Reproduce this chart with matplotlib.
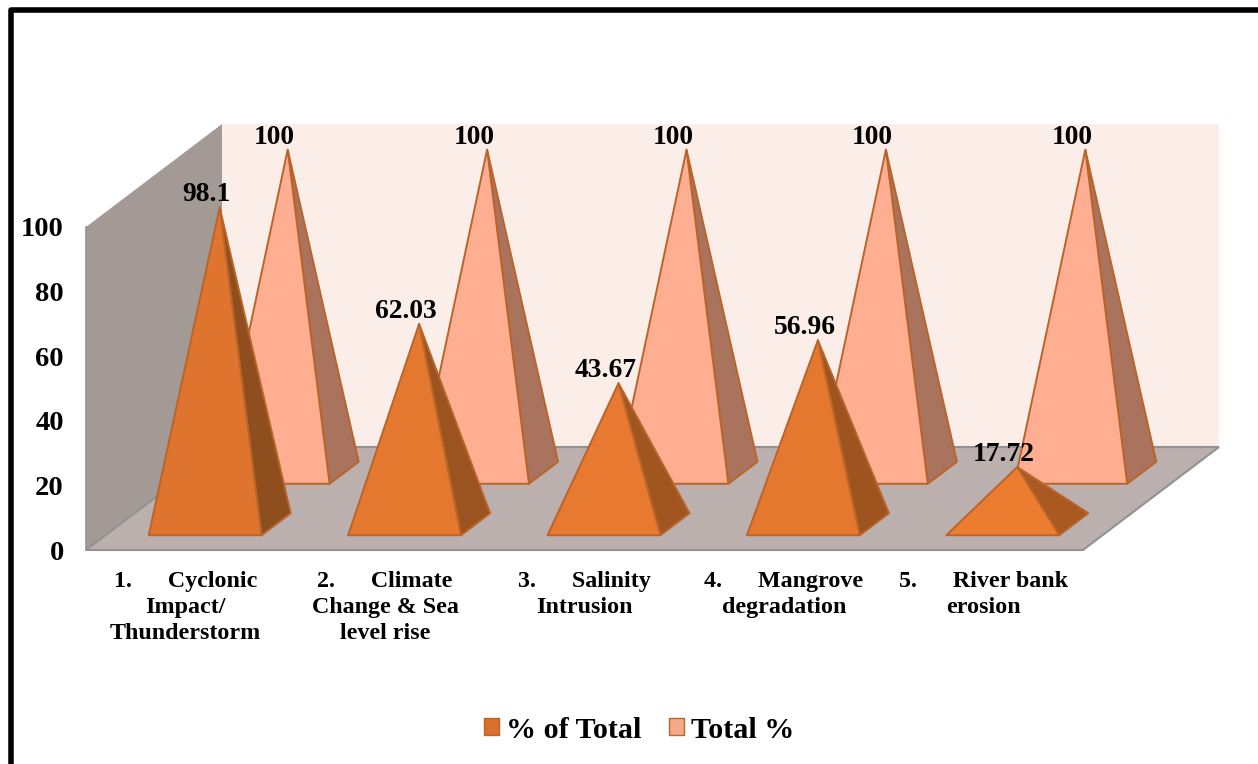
import matplotlib
matplotlib.use('Agg')
import matplotlib.pyplot as plt
from matplotlib.patches import Polygon, Patch, Rectangle
from matplotlib.colors import to_rgb

plt.rcParams['font.family'] = ['Liberation Serif', 'DejaVu Serif']
plt.rcParams['font.weight'] = 'bold'

# data
categorias = ['1.      Cyclonic\nImpact/\nThunderstorm',
              '2.      Climate\nChange & Sea\nlevel rise',
              '3.      Salinity\nIntrusion',
              '4.      Mangrove\ndegradation',
              '5.      River bank\nerosion']
pct_of_total = [98.1, 62.03, 43.67, 56.96, 17.72]
total_pct = [100, 100, 100, 100, 100]
rotulos_y = [0, 20, 40, 60, 80, 100]

W, H = 1258, 764

# oblique depth: how far the back of the box shifts, in axis units
DX = 136 / 199.4
DY = 103 / 3.23
MEIA_LARG = 0.283
MEIA_PROF = 0.107


def proj(x, v, d):
    return (x + d * DX, v + d * DY)


def mistura(a, b, t):
    a, b = to_rgb(a), to_rgb(b)
    return tuple(a[i] + (b[i] - a[i]) * t for i in range(3))


def piramide(ax, x, v, dc, frente, lado, z):
    borda = '#B9642B'
    e1 = proj(x - MEIA_LARG, 0, dc - MEIA_PROF)
    e2 = proj(x + MEIA_LARG, 0, dc - MEIA_PROF)
    e3 = proj(x + MEIA_LARG, 0, dc + MEIA_PROF)
    topo = proj(x, v, dc)
    ax.add_patch(Polygon([e2, e3, topo], closed=True, facecolor=lado,
                         edgecolor=borda, linewidth=1.4, joinstyle='round', zorder=z))
    ax.add_patch(Polygon([e1, e2, topo], closed=True, facecolor=frente,
                         edgecolor=borda, linewidth=1.4, joinstyle='round', zorder=z))


fig = plt.figure(figsize=(W / 100, H / 100), dpi=100, facecolor='white')
ax = fig.add_axes([86 / W, (H - 550) / H, 1134 / W, 426 / H])
ax.set_xlim(-0.5, -0.5 + 1134 / 199.4)
ax.set_ylim(0, 426 / 3.23)
ax.patch.set_visible(False)
for s in ax.spines.values():
    s.set_visible(False)

# box walls and floor
x0, x1 = -0.5, 4.5
ax.add_patch(Polygon([proj(x0, 0, 1), proj(x1, 0, 1), proj(x1, 100, 1), proj(x0, 100, 1)],
                     closed=True, facecolor='#FBEDE8', edgecolor='none', zorder=1))
ax.add_patch(Polygon([proj(x0, 0, 0), proj(x0, 0, 1), proj(x0, 100, 1), proj(x0, 100, 0)],
                     closed=True, facecolor='#A39A95', edgecolor='none', zorder=2))
ax.plot([x0, x0], [0, 100], color='#8E9398', linewidth=1.2, zorder=2, clip_on=False)
ax.add_patch(Polygon([proj(x0, 0, 0), proj(x1, 0, 0), proj(x1, 0, 1), proj(x0, 0, 1)],
                     closed=True, facecolor='#BBB0AE', edgecolor='#929292', linewidth=1.5,
                     clip_on=False, zorder=3))

posicoes = list(range(len(categorias)))

for i in posicoes:
    piramide(ax, i, total_pct[i], 0.75, '#FFAE91', '#A9735D', 4)
for i in posicoes:
    t = pct_of_total[i] / 100
    piramide(ax, i, pct_of_total[i], 0.25,
             mistura('#EE7E31', '#DF742E', t), mistura('#B05C21', '#8E4E1D', t), 5)

# value labels sit up and left of each apex
for i in posicoes:
    ax.annotate(str(total_pct[i]), proj(i, total_pct[i], 0.75), xytext=(-9.5, 9),
                textcoords='offset points', ha='center', va='center', fontsize=19.8,
                fontweight='bold', color='black', zorder=8, annotation_clip=False)
    ax.annotate(str(pct_of_total[i]), proj(i, pct_of_total[i], 0.25), xytext=(-9.5, 9),
                textcoords='offset points', ha='center', va='center', fontsize=19.8,
                fontweight='bold', color='black', zorder=8, annotation_clip=False)

ax.set_yticks(rotulos_y)
ax.set_yticklabels([str(v) for v in rotulos_y], fontsize=20.5, fontweight='bold')
ax.set_xticks(posicoes)
ax.set_xticklabels(categorias, fontsize=17.3, fontweight='bold', linespacing=1.32)
ax.tick_params(axis='y', length=0, pad=16)
ax.tick_params(axis='x', length=0, pad=15)

fig.legend(handles=[Patch(facecolor='#D9702B', edgecolor='#B9642B', label='% of Total'),
                    Patch(facecolor='#F4A98B', edgecolor='#B9642B', label='Total %')],
           loc='center', bbox_to_anchor=(639 / W, (H - 730) / H), ncol=2, frameon=False,
           prop={'size': 21.6, 'weight': 'bold'}, handlelength=0.5, handleheight=0.5,
           handletextpad=0.25, columnspacing=0.9)

# thick page border, runs off the bottom of the image
fig.add_artist(Rectangle((10.8 / W, -10 / H), (1259.5 - 10.8) / W, (H + 10 - 9.8) / H,
                         transform=fig.transFigure, fill=False, edgecolor='black',
                         linewidth=4.0, joinstyle='round'))

fig.savefig('out.png', dpi=100)
